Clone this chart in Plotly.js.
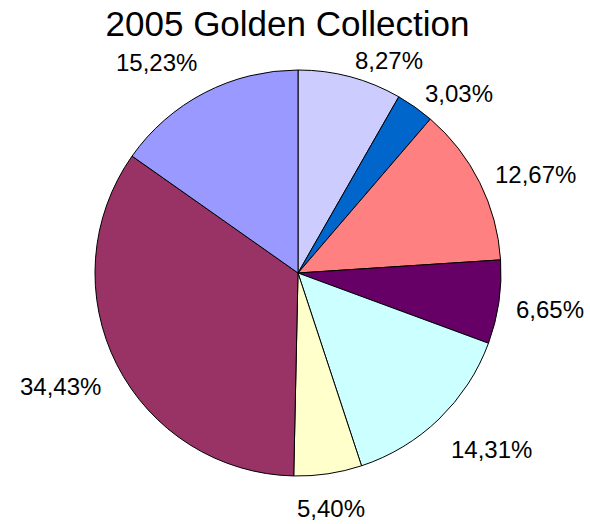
<!DOCTYPE html>
<html><head><meta charset="utf-8">
<script src="https://cdn.plot.ly/plotly-3.0.1.min.js"></script>
<style>html,body{margin:0;padding:0;background:#fff}</style>
</head><body>
<div id="chart" style="width:590px;height:524px"></div>
<script>
const labels = ["A","B","C","D","E","F","G","H"];
const values = [8.27, 3.03, 12.67, 6.65, 14.31, 5.40, 34.43, 15.23];
const colors = ["#CCCCFF","#0066CC","#FF8080","#660066","#CCFFFF","#FFFFCC","#993366","#9999FF"];
const textLabels = values.map(v => v.toFixed(2).replace(".", ",") + "%");

const W = 590, H = 524;
const margin = {l: 95, r: 89, t: 70, b: 48};
const plotW = W - margin.l - margin.r, plotH = H - margin.t - margin.b;
const R = Math.min(plotW, plotH) / 2;
const labelR = R + 17;
const fontSize = 24;

// label annotations placed along each slice's mid-angle (clockwise from top)
const total = values.reduce((a, b) => a + b, 0);
let cum = 0;
const annotations = values.map((v, i) => {
  const mid = (cum + v / 2) / total * 2 * Math.PI;
  cum += v;
  const s = Math.sin(mid), c = Math.cos(mid);
  const txt = textLabels[i];
  let wEm = 0;
  for (const ch of txt) wEm += (ch === "," ? 0.278 : ch === "%" ? 0.889 : 0.556);
  const hw = wEm * fontSize / 2, hh = fontSize / 2;
  const sx = Math.sign(s) * Math.max(0, Math.min(1, (Math.abs(s) - 0.15) * 10));
  const sy = c < 0 ? Math.min(1.5, -2.6 * c) : (s < 0 ? -1.4 * c : 0);
  return {
    xref: "paper", yref: "paper",
    x: 0.5 + labelR * s / plotW, y: 0.5 + labelR * c / plotH,
    xanchor: "center", yanchor: "middle",
    xshift: hw * sx, yshift: -hh * sy,
    text: txt, showarrow: false,
    font: {family: "Liberation Sans, Arial, sans-serif", size: fontSize, color: "#000"}
  };
});

Plotly.newPlot("chart", [{
  type: "pie",
  labels: labels,
  values: values,
  sort: false,
  direction: "clockwise",
  rotation: 0,
  textinfo: "none",
  marker: {colors: colors, line: {color: "#000", width: 1}},
  automargin: false,
  hoverinfo: "none"
}], {
  width: W, height: H,
  margin: margin,
  showlegend: false,
  paper_bgcolor: "#fff",
  annotations: annotations,
  title: {text: "2005 Golden Collection", font: {family: "Liberation Sans, Arial, sans-serif", size: 35, color: "#000"},
          x: 287.5 / W, xanchor: "center", y: 0.978, yanchor: "top", yref: "container"}
}, {displayModeBar: false, staticPlot: true});
</script>
</body></html>
